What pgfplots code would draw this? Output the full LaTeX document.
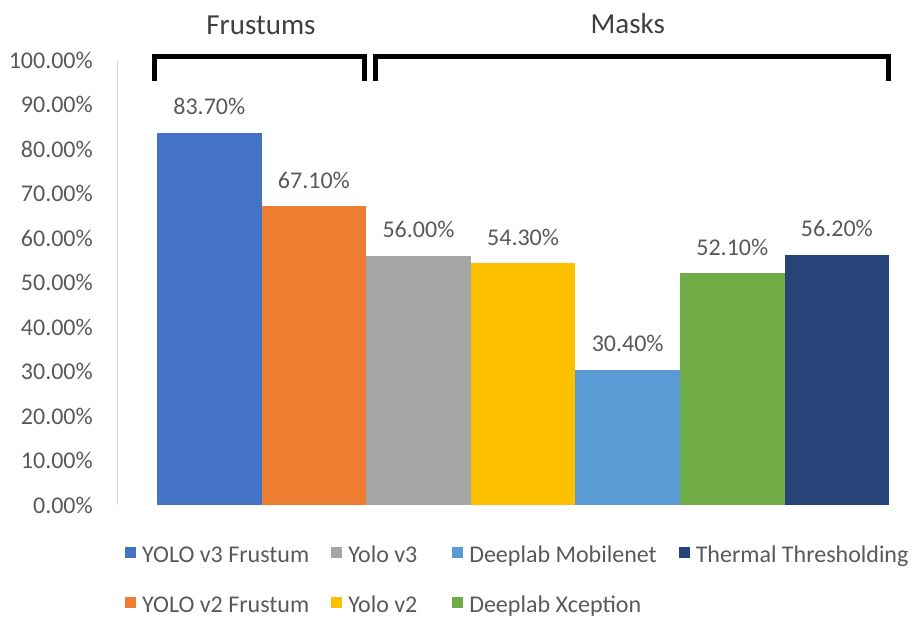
\documentclass[border=0pt]{standalone}
\usepackage{fontspec}
\setmainfont{Carlito}
\usepackage{pgfplots}
\pgfplotsset{compat=1.18}

\definecolor{cA}{HTML}{4472C4}
\definecolor{cB}{HTML}{ED7D31}
\definecolor{cC}{HTML}{A5A5A5}
\definecolor{cD}{HTML}{FFC000}
\definecolor{cE}{HTML}{5B9BD5}
\definecolor{cF}{HTML}{70AD47}
\definecolor{cG}{HTML}{264478}
\definecolor{txt}{HTML}{595959}
\definecolor{ttl}{HTML}{404040}

% fixed-width legend label for the narrow second column
\newcommand{\widelabel}[1]{\makebox[82pt][l]{#1}}

\begin{document}
\begin{tikzpicture}
\useasboundingbox (0,0) rectangle (916pt,618pt);
\begin{axis}[
  at={(118pt,113pt)}, anchor=south west,
  scale only axis, width=787pt, height=445pt,
  xmin=-0.873, xmax=6.651, ymin=0, ymax=100,
  clip=false,
  font=\fontsize{24}{29}\selectfont,
  axis x line=none, axis y line*=left,
  axis line style={draw=black!15, line width=1pt},
  ytick={0,10,...,100},
  /pgf/number format/assume math mode=true,
  yticklabel={\pgfmathprintnumber[fixed,fixed zerofill,precision=2]{\tick}\%},
  yticklabel style={anchor=east, inner sep=0pt, xshift=-25pt, text=txt},
  major tick length=0pt,
  ybar, bar width=1,
  point meta=y,
  nodes near coords={\pgfmathprintnumber[fixed,fixed zerofill,precision=2]{\pgfplotspointmeta}\%},
  every node near coord/.append style={anchor=center, yshift=26pt, text=txt, inner sep=0pt},
  legend columns=4,
  legend cell align=left,
  legend style={at={(0.0089,-0.0915)}, anchor=north west, draw=none, fill=none,
    inner sep=0pt, row sep=28pt, text=txt,
    nodes={inner sep=0pt, text height=17pt, text depth=5pt},
    /tikz/every odd column/.append style={column sep=6pt},
    /tikz/every even column/.append style={column sep=22pt}},
  legend image code/.code={\fill[#1,draw=none] (0pt,-1pt) rectangle (11pt,10pt);},
]
% column-major legend order: plots added as 1,3,5,7,2,4,6
\addplot[fill=cA, draw=none, bar shift=0pt] coordinates {(0,83.7)};
\addlegendentry{YOLO v3 Frustum}
\addplot[fill=cC, draw=none, bar shift=0pt] coordinates {(2,56.0)};
\addlegendentry{\widelabel{Yolo v3}}
\addplot[fill=cE, draw=none, bar shift=0pt] coordinates {(4,30.4)};
\addlegendentry{Deeplab Mobilenet}
\addplot[fill=cG, draw=none, bar shift=0pt] coordinates {(6,56.2)};
\addlegendentry{Thermal Thresholding}
\addplot[fill=cB, draw=none, bar shift=0pt] coordinates {(1,67.1)};
\addlegendentry{YOLO v2 Frustum}
\addplot[fill=cD, draw=none, bar shift=0pt] coordinates {(3,54.3)};
\addlegendentry{\widelabel{Yolo v2}}
\addplot[fill=cF, draw=none, bar shift=0pt] coordinates {(5,52.1)};
\addlegendentry{Deeplab Xception}

% group brackets and their titles
\draw[line width=5pt, line join=miter, line cap=butt]
  (axis cs:-0.524,95.28) |- (axis cs:1.479,100.79) -- (axis cs:1.479,95.28);
\draw[line width=5pt, line join=miter, line cap=butt]
  (axis cs:1.584,95.28) |- (axis cs:6.489,100.79) -- (axis cs:6.489,95.28);
\node[font=\fontsize{29}{34}\selectfont, text=ttl] at (axis cs:0.494,107.9) {Frustums};
\node[font=\fontsize{29}{34}\selectfont, text=ttl] at (axis cs:4.0,108.3) {Masks};
\end{axis}
\end{tikzpicture}
\end{document}
